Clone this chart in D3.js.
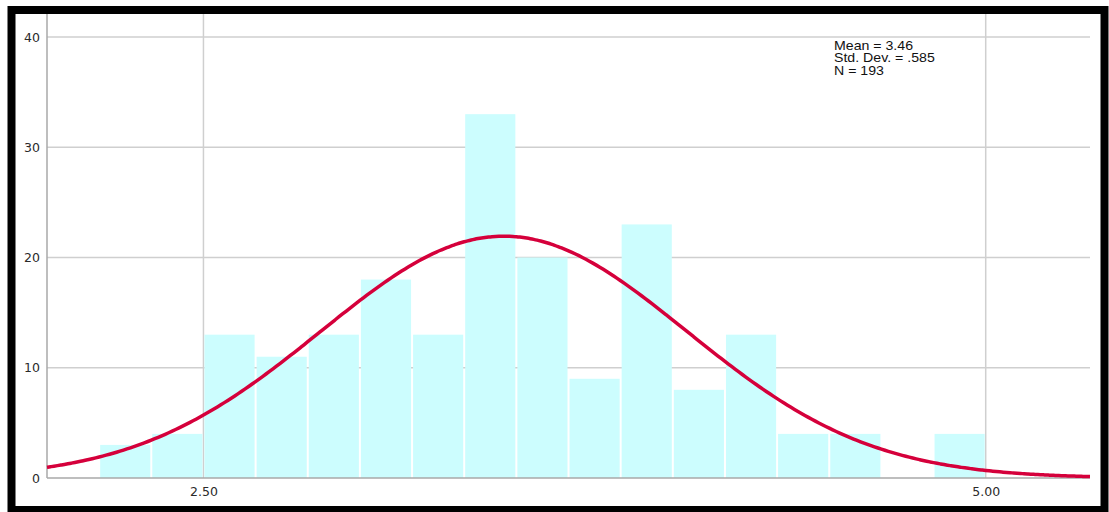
<!DOCTYPE html>
<html><head><meta charset="utf-8">
<script src="https://cdn.jsdelivr.net/npm/d3@7"></script>
<style>html,body{margin:0;padding:0;background:#fff;}svg{display:block;}</style>
</head><body>
<svg id="chart" width="1109" height="512"></svg>
<script>
// Histogram bins (lower edge of each bin), width 1/6
const binStarts = [2.1667,2.3333,2.5,2.6667,2.8333,3.0,3.1667,3.3333,3.5,3.6667,3.8333,4.0,4.1667,4.3333,4.5,4.6667,4.8333];
const counts    = [3,4,13,11,13,18,13,33,20,9,23,8,13,4,4,0,4];
const binWidth = 1/6;
const yTicks = [0,10,20,30,40];
const xTicks = [2.5,5.0];
const xTickLabels = ["2.50","5.00"];
const statsLines = ["Mean = 3.46","Std. Dev. = .585","N = 193"];
const mean = 3.46, sd = 0.585, N = 193;

const svg = d3.select("#chart");
const L = 47, R = 1090, T = 14, B = 478;
const x = d3.scaleLinear().domain([2.0, 5.3333]).range([L, R]);
const y = d3.scaleLinear().domain([0, 40]).range([B, 37]);

svg.append("rect").attr("x",0).attr("y",0).attr("width",1109).attr("height",512).attr("fill","#fff");
// grid
svg.append("g").selectAll("line").data(yTicks.filter(d=>d>0)).join("line")
  .attr("x1",L).attr("x2",R).attr("y1",d=>y(d)).attr("y2",d=>y(d))
  .attr("stroke","#cfcfcf").attr("stroke-width",1.5);
svg.append("g").selectAll("line").data(xTicks).join("line")
  .attr("x1",d=>x(d)).attr("x2",d=>x(d)).attr("y1",T).attr("y2",B)
  .attr("stroke","#cfcfcf").attr("stroke-width",1.5);

// bars
svg.append("g").selectAll("rect").data(counts).join("rect")
  .attr("x",(d,i)=>x(binStarts[i])+1)
  .attr("width",(d,i)=>x(binStarts[i]+binWidth)-x(binStarts[i])-2)
  .attr("y",d=>y(d)).attr("height",d=>y(0)-y(d))
  .attr("fill","#ccfdfe");

// axes lines
svg.append("line").attr("x1",L).attr("x2",L).attr("y1",T).attr("y2",B).attr("stroke","#a8a8a8").attr("stroke-width",1.5);
svg.append("line").attr("x1",L).attr("x2",R).attr("y1",B).attr("y2",B).attr("stroke","#a8a8a8").attr("stroke-width",1.5);

// axis labels
const yAxis = d3.axisLeft(y).tickValues(yTicks).tickSize(0).tickPadding(7).tickFormat(d3.format("d"));
const gy = svg.append("g").attr("transform",`translate(${L},0)`).call(yAxis);
gy.select(".domain").remove();
gy.selectAll("text").attr("font-family","DejaVu Sans, sans-serif").attr("font-size",12.5).attr("fill","#2a2a2a");
const xAxis = d3.axisBottom(x).tickValues(xTicks).tickSize(0).tickPadding(9).tickFormat((d,i)=>xTickLabels[i]);
const gx = svg.append("g").attr("transform",`translate(0,${B})`).call(xAxis);
gx.select(".domain").remove();
gx.selectAll("text").attr("font-family","DejaVu Sans, sans-serif").attr("font-size",12.5).attr("fill","#2a2a2a");

// normal curve from stated mean / sd / N
const xs = d3.range(0, 301).map(i => 2.0 + i*(5.3333-2.0)/300);
const pdf = v => N*binWidth*Math.exp(-0.5*((v-mean)/sd)**2)/(sd*Math.sqrt(2*Math.PI));
svg.append("path").datum(xs)
  .attr("d", d3.line().x(d=>x(d)).y(d=>y(pdf(d))).curve(d3.curveBasis))
  .attr("fill","none").attr("stroke","#d5003b").attr("stroke-width",3.5);

// stats
const sg = svg.append("g").attr("transform","translate(834,0) scale(1.18,1)");
sg.selectAll("text").data(statsLines).join("text")
  .attr("x",0).attr("y",(d,i)=>50+i*12.4)
  .attr("font-family","Liberation Sans, Arial, sans-serif").attr("font-size",12).attr("fill","#111")
  .text(d=>d);

// black frame
svg.append("rect").attr("x",11.5).attr("y",10).attr("width",1093).attr("height",500)
  .attr("fill","none").attr("stroke","#000").attr("stroke-width",8);
</script>
</body></html>
